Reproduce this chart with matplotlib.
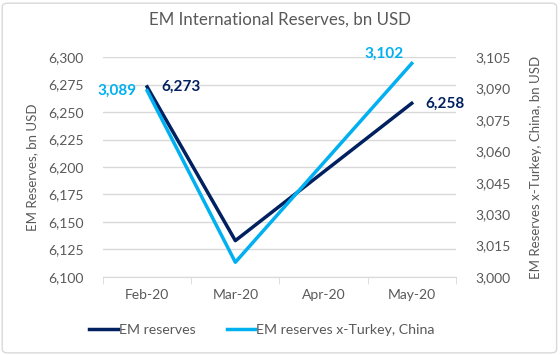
import matplotlib.pyplot as plt
from matplotlib.patches import FancyBboxPatch

months = ['Feb-20', 'Mar-20', 'Apr-20', 'May-20']
em_reserves = [6273, 6133, None, 6258]
em_ex_tr_cn = [3089, 3007, None, 3102]

navy = '#002060'
cyan = '#00B0F0'
grey = '#595959'

plt.rcParams['font.family'] = ['Lato', 'DejaVu Sans']

fig = plt.figure(figsize=(5.6, 3.55), dpi=100)
fig.patches.append(FancyBboxPatch((0.004, 0.006), 0.99, 0.985, boxstyle='round,pad=0,rounding_size=0.01',
                                  transform=fig.transFigure, fc='white', ec='#D9D9D9', lw=1, zorder=-10))
ax = fig.add_axes([0.184, 0.220, 0.630, 0.619])
ax2 = ax.twinx()
ax.patch.set_visible(False)
ax2.patch.set_visible(False)

# only the points we know; Apr-20 is just a straight line between Mar and May
xs = [i for i, v in enumerate(em_reserves) if v is not None]
ax.plot(xs, [em_reserves[i] for i in xs], color=navy, lw=2.5, zorder=3, label='EM reserves')
ax2.plot(xs, [em_ex_tr_cn[i] for i in xs], color=cyan, lw=2.5, zorder=3, label='EM reserves x-Turkey, China')

ax.set_xlim(-0.5, 3.5)
ax.set_ylim(6100, 6300)
ax2.set_ylim(3000, 3105)
ax.set_yticks(range(6100, 6301, 25))
ax2.set_yticks(range(3000, 3106, 15))
ax.yaxis.set_major_formatter(plt.FuncFormatter(lambda v, p: f'{v:,.0f}'))
ax2.yaxis.set_major_formatter(plt.FuncFormatter(lambda v, p: f'{v:,.0f}'))
ax.set_xticks(range(4))
ax.set_xticklabels(months)
ax.set_xticks([-0.5, 0.5, 1.5, 2.5, 3.5], minor=True)

ax.grid(axis='y', color='#D9D9D9', lw=1)
ax.set_axisbelow(True)
for a in (ax, ax2):
    for s in a.spines.values():
        s.set_visible(False)
    a.tick_params(axis='y', length=0, labelsize=10, colors=grey, pad=14)
ax.spines['bottom'].set_visible(True)
ax.spines['bottom'].set_color('#D9D9D9')
ax.tick_params(axis='x', which='major', length=0, labelsize=10, colors=grey, pad=9)
ax.tick_params(axis='x', which='minor', length=5, color='#D9D9D9')

ax.set_ylabel('EM Reserves, bn USD', color=grey, fontsize=9.5, labelpad=7)
ax2.set_ylabel('EM Reserves x-Turkey, China, bn USD', color=grey, fontsize=9.5, labelpad=14)

fig.text(0.5, 0.945, 'EM International Reserves, bn USD', ha='center', va='center',
         fontsize=12.2, color=grey)

# data labels
lab = dict(fontsize=11, fontweight='bold')
ax.annotate(f'{em_reserves[0]:,}', (0, em_reserves[0]), xytext=(10, 0), textcoords='offset points',
            ha='left', va='center', color=navy, **lab)
ax.annotate(f'{em_reserves[3]:,}', (3, em_reserves[3]), xytext=(10, 0), textcoords='offset points',
            ha='left', va='center', color=navy, **lab)
ax2.annotate(f'{em_ex_tr_cn[0]:,}', (0, em_ex_tr_cn[0]), xytext=(-8, 0), textcoords='offset points',
             ha='right', va='center', color=cyan, **lab)
ax2.annotate(f'{em_ex_tr_cn[3]:,}', (3, em_ex_tr_cn[3]), xytext=(-6, 7), textcoords='offset points',
             ha='right', va='center', color=cyan, **lab)

h1, l1 = ax.get_legend_handles_labels()
h2, l2 = ax2.get_legend_handles_labels()
fig.legend(h1 + h2, l1 + l2, loc='center', bbox_to_anchor=(0.468, 0.07), ncol=2, frameon=False,
           fontsize=10.2, labelcolor=grey, handlelength=2.0, handletextpad=0.1, columnspacing=2.2)

fig.savefig('out.png', dpi=100)
